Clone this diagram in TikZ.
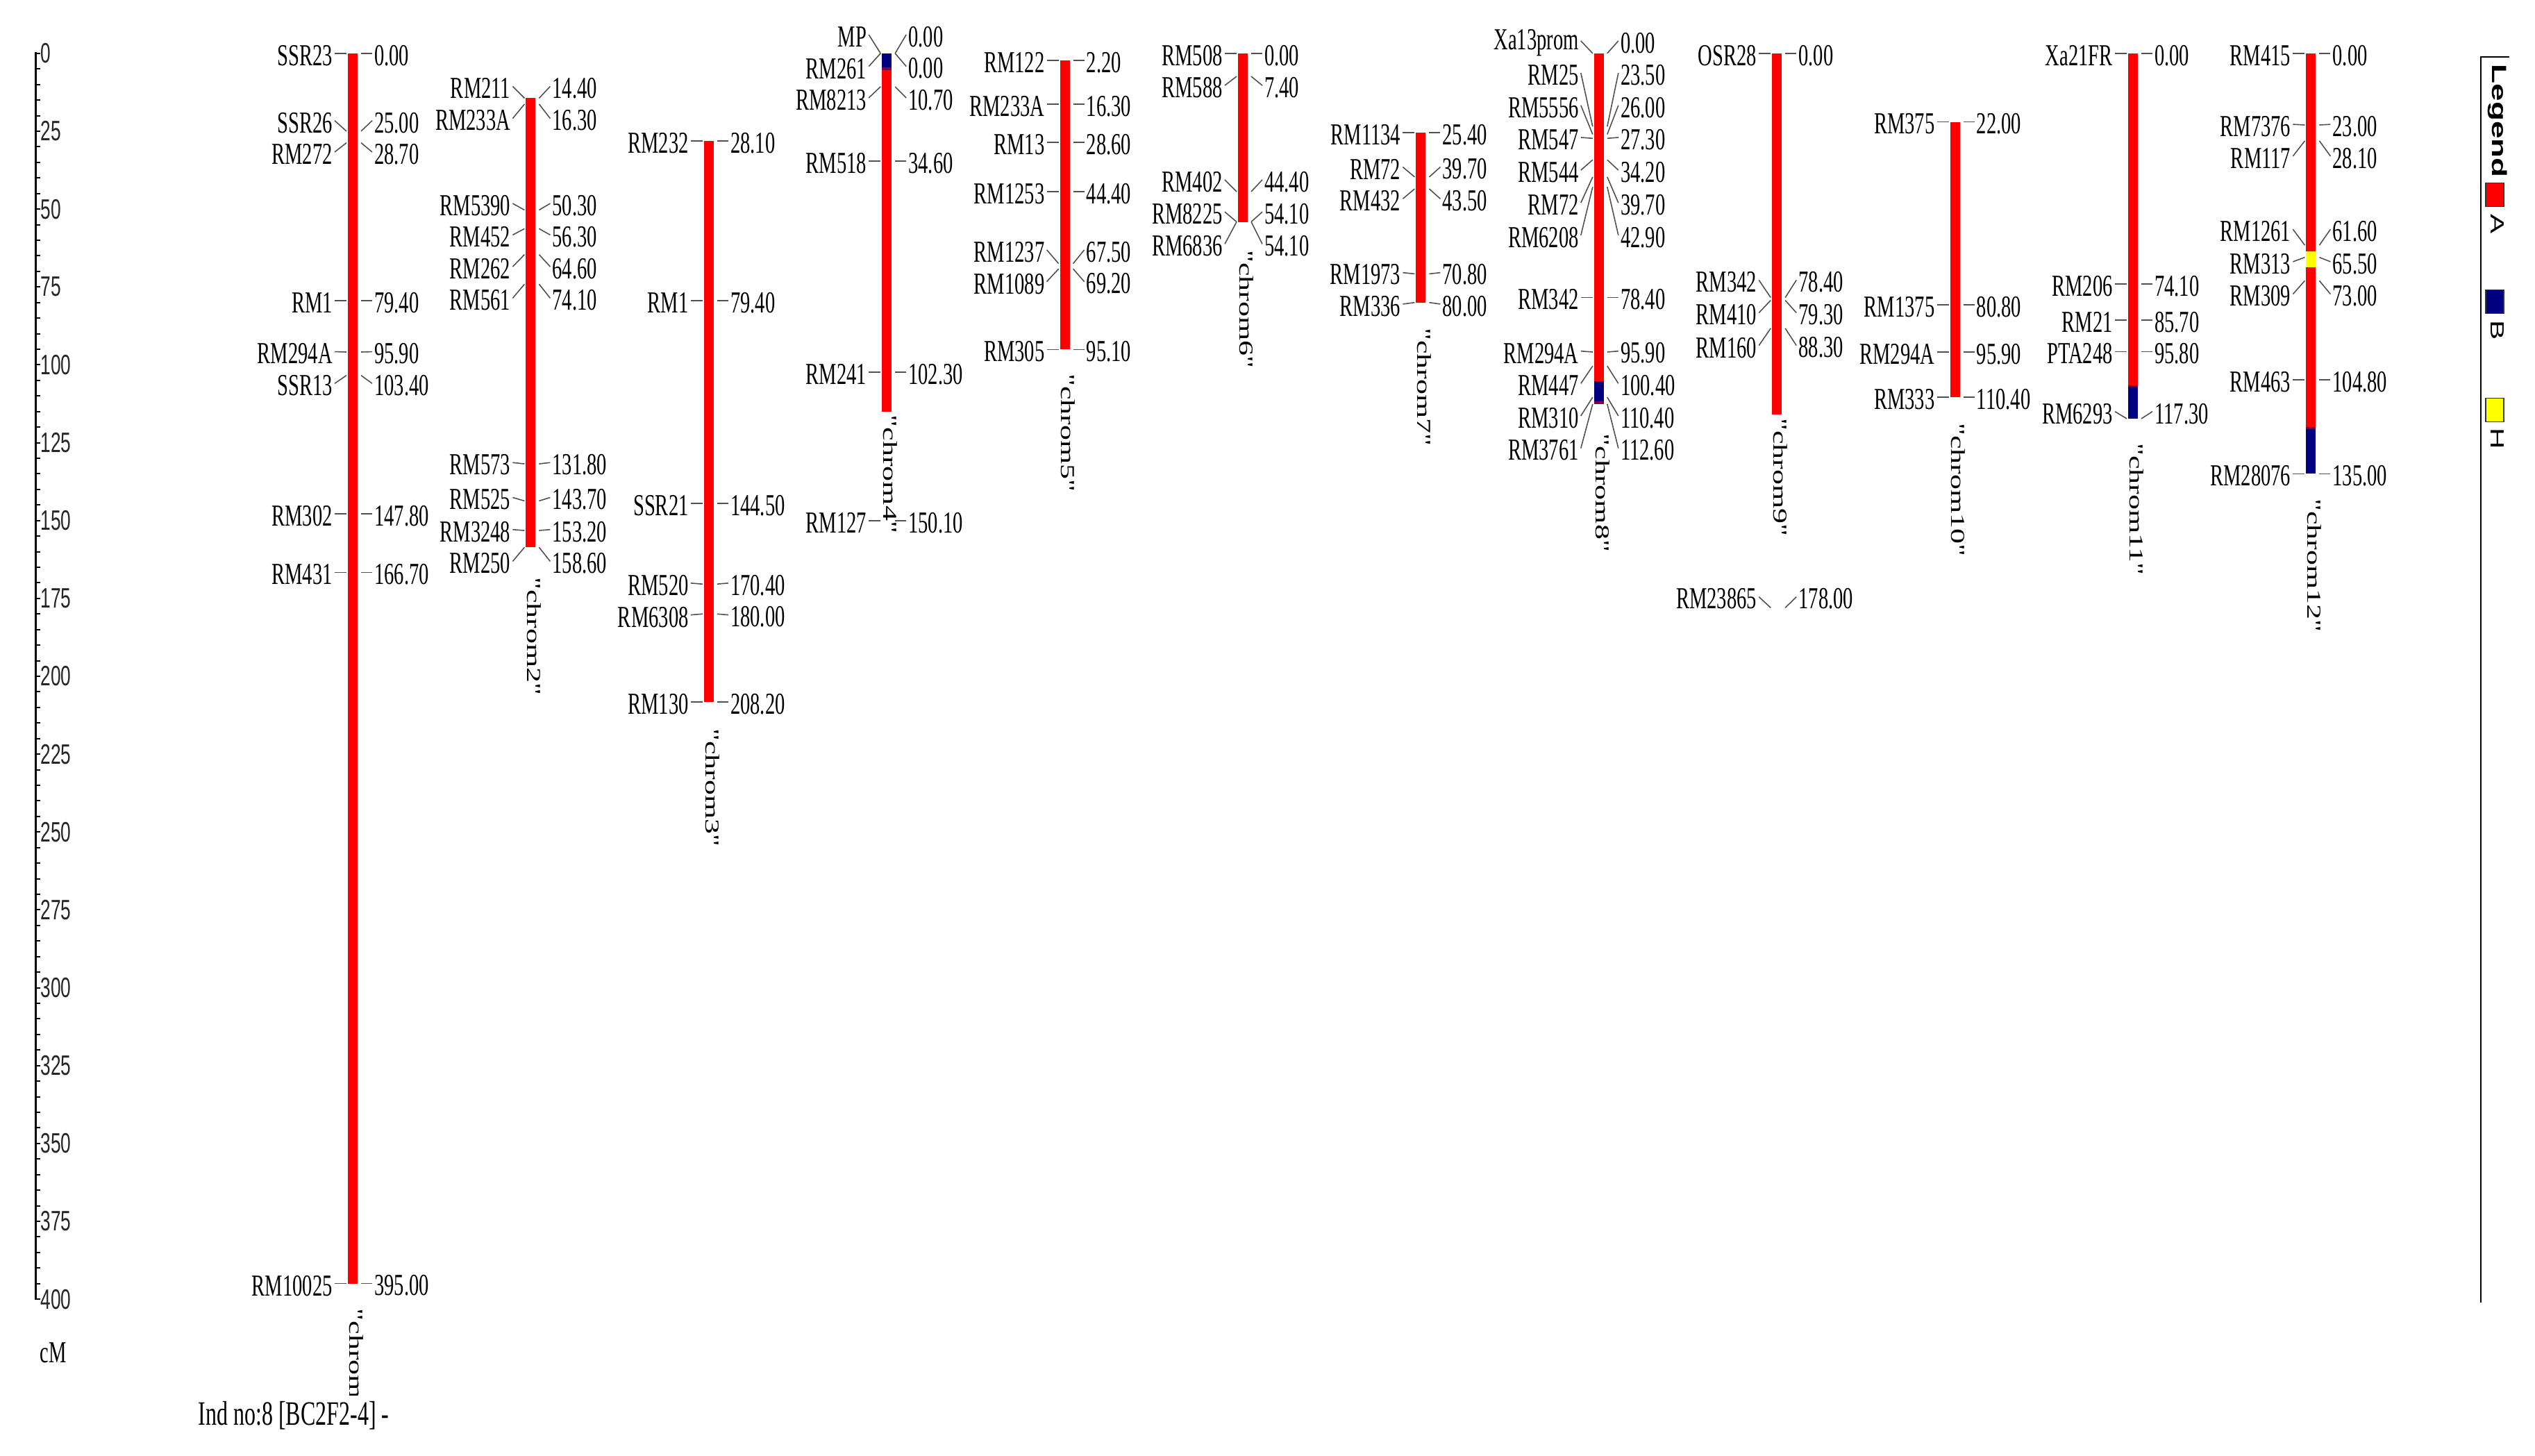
\documentclass[tikz,border=0pt]{standalone}
\usepackage{fontspec}
\setmainfont{Liberation Serif}
\newfontfamily\sqserif[FakeStretch=0.65]{Liberation Serif}
\newfontfamily\sqsans[FakeStretch=0.65]{Liberation Sans}
\newfontfamily\plsans{Liberation Sans}
\newfontfamily\chrfont[Ligatures=TeXOff]{Liberation Serif}
\definecolor{chrred}{RGB}{255,0,0}
\definecolor{chrblue}{RGB}{0,0,128}
\definecolor{chryel}{RGB}{255,255,0}
\definecolor{chrmix}{RGB}{128,0,64}
\definecolor{connc}{RGB}{80,80,80}
\newcounter{mkc}
% #1 bar centre x, #2 true cM, #3 label cM, #4 marker name, #5 value
\newcommand\chrmark[5]{%
  \stepcounter{mkc}\edef\mkid{\arabic{mkc}}%
  \coordinate (pl\mkid) at ({#1-9},#2);
  \coordinate (el\mkid) at ({#1-26},#3);
  \coordinate (pr\mkid) at ({#1+12},#2);
  \coordinate (er\mkid) at ({#1+28},#3);
  \draw[conn] (pl\mkid) -- (el\mkid);
  \draw[conn] (pr\mkid) -- (er\mkid);
  \node[mlab, anchor=east, xshift=-0.025cm] (ml\mkid) at (el\mkid) {#4};
  \node[mlab, anchor=west, xshift=0.025cm] (mr\mkid) at (er\mkid) {#5};
}
\newcommand\chrseg[4]{\fill[#4] ({#1-7},#2) rectangle ({#1+7},#3);}
\newcommand\chrname[3]{\node[chrlab, anchor=north] (cn#3) at ({#1+5},#2) {\rotatebox{-90}{\scalebox{1}[0.65]{"chrom#3"}}};}
\begin{document}
\begin{tikzpicture}[x=0.01cm, y=-0.04483cm,
  conn/.style={draw=connc, line width=0.45pt},
  mlab/.style={font=\sqserif\fontsize{12.5}{14}\selectfont, inner sep=0pt, yshift=-0.03cm, text=black},
  chrlab/.style={font=\chrfont\fontsize{12.5}{14}\selectfont, inner sep=0pt, text=black},
  axlab/.style={font=\sqsans\fontsize{11.5}{13}\selectfont, inner sep=0pt, text=black!85},
  legbox/.style={draw=black!80, line width=0.4pt, minimum width=0.26cm, minimum height=0.34cm, inner sep=0pt},
  legtxt/.style={font=\plsans\fontsize{12}{14}\selectfont, inner sep=0pt, anchor=north}]
\fill[white] (0,-17.131) rectangle (3651,450.19);
\useasboundingbox (0,-17.131) rectangle (3651,450.19);

% ---------- scale axis ----------
\draw[line width=0.035cm] (51.5,-0.3) -- (51.5,400.3);
\foreach \tk in {0,5,...,400} \draw[line width=0.55pt] (51.5,\tk) -- (58,\tk);
\foreach \tk in {0,25,...,400} \node[axlab, anchor=west] (ax\tk) at (58,\tk) {\tk};
\node[mlab, anchor=west] (cmlab) at (57,416.5) {cM};

% ---------- chrom 1 ----------
\chrseg{508}{0}{395}{chrred}
\chrmark{508}{0}{0}{SSR23}{0.00}
\chrmark{508}{25}{21.6}{SSR26}{25.00}
\chrmark{508}{28.7}{31.7}{RM272}{28.70}
\chrmark{508}{79.4}{79.4}{RM1}{79.40}
\chrmark{508}{95.9}{95.8}{RM294A}{95.90}
\chrmark{508}{103.4}{106.0}{SSR13}{103.40}
\chrmark{508}{147.8}{147.8}{RM302}{147.80}
\chrmark{508}{166.7}{166.7}{RM431}{166.70}
\chrmark{508}{395}{395}{RM10025}{395.00}
\begin{scope}
\clip (0,-17.131) rectangle (3651,430.8);
\chrname{508}{402.9}{1}
\end{scope}

% ---------- chrom 2 ----------
\chrseg{764.4}{14.4}{158.6}{chrred}
\chrmark{764.4}{14.4}{10.6}{RM211}{14.40}
\chrmark{764.4}{16.3}{20.9}{RM233A}{16.30}
\chrmark{764.4}{50.3}{48.2}{RM5390}{50.30}
\chrmark{764.4}{56.3}{58.3}{RM452}{56.30}
\chrmark{764.4}{64.6}{68.5}{RM262}{64.60}
\chrmark{764.4}{74.1}{78.6}{RM561}{74.10}
\chrmark{764.4}{131.8}{131.4}{RM573}{131.80}
\chrmark{764.4}{143.7}{142.6}{RM525}{143.70}
\chrmark{764.4}{153.2}{152.9}{RM3248}{153.20}
\chrmark{764.4}{158.6}{163.1}{RM250}{158.60}
\chrname{764.4}{168}{2}

% ---------- chrom 3 ----------
\chrseg{1020.8}{28.1}{208.2}{chrred}
\chrmark{1020.8}{28.1}{28.1}{RM232}{28.10}
\chrmark{1020.8}{79.4}{79.4}{RM1}{79.40}
\chrmark{1020.8}{144.5}{144.5}{SSR21}{144.50}
\chrmark{1020.8}{170.4}{170.1}{RM520}{170.40}
\chrmark{1020.8}{180}{180.3}{RM6308}{180.00}
\chrmark{1020.8}{208.2}{208.2}{RM130}{208.20}
\chrname{1020.8}{216.6}{3}

% ---------- chrom 4 ----------
\chrseg{1277.2}{0}{4.6}{chrblue}
\chrseg{1277.2}{4.6}{5.3}{chrmix}
\chrseg{1277.2}{5.3}{115}{chrred}
\chrmark{1277.2}{0}{-6.0}{MP}{0.00}
\chrmark{1277.2}{0}{4.2}{RM261}{0.00}
\chrmark{1277.2}{10.7}{14.3}{RM8213}{10.70}
\chrmark{1277.2}{34.6}{34.6}{RM518}{34.60}
\chrmark{1277.2}{102.3}{102.3}{RM241}{102.30}
\chrmark{1277.2}{150.1}{150.1}{RM127}{150.10}
\chrname{1277.2}{116}{4}

% ---------- chrom 5 ----------
\chrseg{1533.6}{2.2}{95.1}{chrred}
\chrmark{1533.6}{2.2}{2.2}{RM122}{2.20}
\chrmark{1533.6}{16.3}{16.3}{RM233A}{16.30}
\chrmark{1533.6}{28.6}{28.6}{RM13}{28.60}
\chrmark{1533.6}{44.4}{44.4}{RM1253}{44.40}
\chrmark{1533.6}{67.5}{63.1}{RM1237}{67.50}
\chrmark{1533.6}{69.2}{73.3}{RM1089}{69.20}
\chrmark{1533.6}{95.1}{95.1}{RM305}{95.10}
\chrname{1533.6}{102.7}{5}

% ---------- chrom 6 ----------
\chrseg{1790}{0}{54.1}{chrred}
\chrmark{1790}{0}{0}{RM508}{0.00}
\chrmark{1790}{7.4}{10.3}{RM588}{7.40}
\chrmark{1790}{44.4}{40.6}{RM402}{44.40}
\chrmark{1790}{54.1}{50.9}{RM8225}{54.10}
\chrmark{1790}{54.1}{61.2}{RM6836}{54.10}
\chrname{1790}{63}{6}

% ---------- chrom 7 ----------
\chrseg{2046.4}{25.4}{80}{chrred}
\chrmark{2046.4}{25.4}{25.4}{RM1134}{25.40}
\chrmark{2046.4}{39.7}{36.5}{RM72}{39.70}
\chrmark{2046.4}{43.5}{46.7}{RM432}{43.50}
\chrmark{2046.4}{70.8}{70.4}{RM1973}{70.80}
\chrmark{2046.4}{80}{80.5}{RM336}{80.00}
\chrname{2046.4}{88}{7}

% ---------- chrom 8 ----------
\chrseg{2302.8}{0}{105.3}{chrred}
\chrseg{2302.8}{105.3}{111.7}{chrblue}
\chrseg{2302.8}{111.7}{112.6}{chrmix}
\chrmark{2302.8}{0}{-4.0}{Xa13prom}{0.00}
\chrmark{2302.8}{23.5}{6.3}{RM25}{23.50}
\chrmark{2302.8}{26}{16.7}{RM5556}{26.00}
\chrmark{2302.8}{27.3}{27.0}{RM547}{27.30}
\chrmark{2302.8}{34.2}{37.5}{RM544}{34.20}
\chrmark{2302.8}{39.7}{48.0}{RM72}{39.70}
\chrmark{2302.8}{42.9}{58.4}{RM6208}{42.90}
\chrmark{2302.8}{78.4}{78.4}{RM342}{78.40}
\chrmark{2302.8}{95.9}{95.6}{RM294A}{95.90}
\chrmark{2302.8}{100.4}{106.0}{RM447}{100.40}
\chrmark{2302.8}{110.4}{116.4}{RM310}{110.40}
\chrmark{2302.8}{112.6}{126.8}{RM3761}{112.60}
\chrname{2302.8}{122}{8}

% ---------- chrom 9 ----------
\chrseg{2559.2}{0}{116}{chrred}
\chrmark{2559.2}{0}{0}{OSR28}{0.00}
\chrmark{2559.2}{78.4}{72.8}{RM342}{78.40}
\chrmark{2559.2}{79.3}{83.3}{RM410}{79.30}
\chrmark{2559.2}{88.3}{93.8}{RM160}{88.30}
\chrmark{2559.2}{178}{174.5}{RM23865}{178.00}
\chrname{2559.2}{117}{9}

% ---------- chrom 10 ----------
\chrseg{2815.6}{22}{110.4}{chrred}
\chrmark{2815.6}{22}{22}{RM375}{22.00}
\chrmark{2815.6}{80.8}{80.8}{RM1375}{80.80}
\chrmark{2815.6}{95.9}{95.9}{RM294A}{95.90}
\chrmark{2815.6}{110.4}{110.4}{RM333}{110.40}
\chrname{2815.6}{118.5}{10}

% ---------- chrom 11 ----------
\chrseg{3072}{0}{106.5}{chrred}
\chrseg{3072}{106.5}{107.1}{chrmix}
\chrseg{3072}{107.1}{117.3}{chrblue}
\chrmark{3072}{0}{0}{Xa21FR}{0.00}
\chrmark{3072}{74.1}{74.1}{RM206}{74.10}
\chrmark{3072}{85.7}{85.7}{RM21}{85.70}
\chrmark{3072}{95.8}{95.8}{PTA248}{95.80}
\chrmark{3072}{117.3}{115.0}{RM6293}{117.30}
\chrname{3072}{125}{11}

% ---------- chrom 12 ----------
\chrseg{3328.4}{0}{63.5}{chrred}
\chrseg{3328.4}{63.5}{68.8}{chryel}
\chrseg{3328.4}{68.8}{120}{chrred}
\chrseg{3328.4}{120}{120.6}{chrmix}
\chrseg{3328.4}{120.6}{135}{chrblue}
\chrmark{3328.4}{0}{0}{RM415}{0.00}
\chrmark{3328.4}{23}{22.8}{RM7376}{23.00}
\chrmark{3328.4}{28.1}{33.0}{RM117}{28.10}
\chrmark{3328.4}{61.6}{56.5}{RM1261}{61.60}
\chrmark{3328.4}{65.5}{66.9}{RM313}{65.50}
\chrmark{3328.4}{73}{77.3}{RM309}{73.00}
\chrmark{3328.4}{104.8}{104.8}{RM463}{104.80}
\chrmark{3328.4}{135}{135}{RM28076}{135.00}
\chrname{3328.4}{142.8}{12}

% ---------- title ----------
\node[anchor=west, inner sep=0pt, font=\sqserif\fontsize{14}{16}\selectfont] (title) at (285,437.3) {Ind no:8 [BC2F2-4] -};

% ---------- legend ----------
\draw[line width=0.5pt] (3614,1.2) -- (3573,1.2) -- (3573,401);
\node[anchor=north, inner sep=0pt, font=\plsans\bfseries\fontsize{13}{15}\selectfont] (legtitle) at (3597,3.4) {\rotatebox{-90}{\scalebox{1}[0.65]{Legend}}};
\node[legbox, fill=chrred] (legA) at (3593,45.35) {};
\node[legtxt] (legAt) at (3597,51.4) {\rotatebox{-90}{\scalebox{1}[0.65]{A}}};
\node[legbox, fill=chrblue] (legB) at (3593,79.75) {};
\node[legtxt] (legBt) at (3597,85.7) {\rotatebox{-90}{\scalebox{1}[0.65]{B}}};
\node[legbox, fill=chryel] (legH) at (3593,114.55) {};
\node[legtxt] (legHt) at (3597,120.1) {\rotatebox{-90}{\scalebox{1}[0.65]{H}}};
\end{tikzpicture}
\end{document}
